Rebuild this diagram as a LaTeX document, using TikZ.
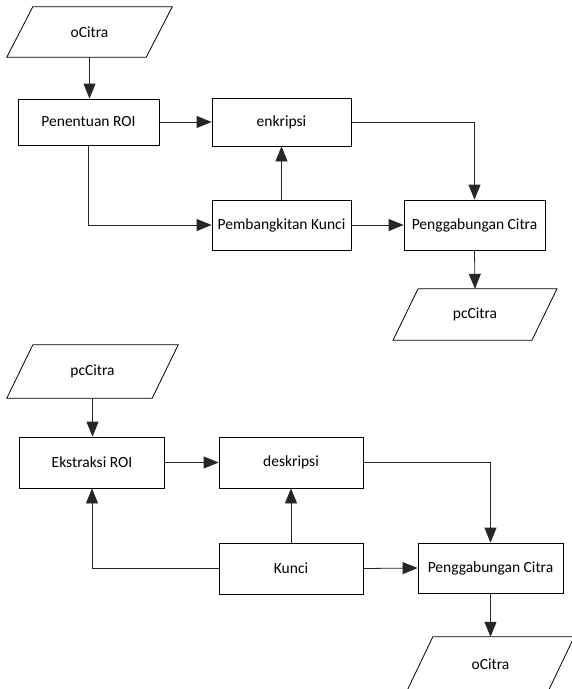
\documentclass[tikz,border=0pt]{standalone}
\usepackage{fontspec}
\setmainfont{Carlito}
\usetikzlibrary{arrows.meta,calc}
\tikzset{
  box/.style={draw=black, line width=0.8pt, rectangle, inner sep=0pt, font=\fontsize{15.5}{18}\selectfont},
  iotext/.style={rectangle, inner sep=0pt, font=\fontsize{15.5}{18}\selectfont},
  paraline/.style={draw=black, line width=0.8pt},
  conn/.style={draw=black!85, line width=0.8pt, -{Triangle[length=15pt,width=12pt]}}
}
\newcommand{\drawpara}[2]{\draw[paraline] ([xshift=#2]#1.north west) -- ([xshift=#2]#1.north east) -- ([xshift=-#2]#1.south east) -- ([xshift=-#2]#1.south west) -- cycle;}
\begin{document}
\begin{tikzpicture}[x=1pt,y=-1pt]
\useasboundingbox (0,0) rectangle (572,689);
\clip (0,0) rectangle (572,689);
\fill[white] (0,0) rectangle (572,689);
% ---------- top diagram ----------
\node[iotext, minimum width=139pt, minimum height=50pt] (in1) at (89.5,32) {oCitra};
\drawpara{in1}{13pt}
\node[box, minimum width=141pt, minimum height=46pt] (roi1) at (88.5,122) {Penentuan ROI};
\node[box, minimum width=139pt, minimum height=48pt] (enk) at (281.5,122) {enkripsi};
\node[box, minimum width=139pt, minimum height=50pt] (pk) at (281.5,225) {Pembangkitan Kunci};
\node[box, minimum width=141pt, minimum height=50pt] (gab1) at (474.5,225) {Penggabungan Citra};
\node[iotext, minimum width=138.5pt, minimum height=51pt] (out1) at (475,314.5) {pcCitra};
\drawpara{out1}{12.5pt}
\draw[conn] (in1.south) -- (in1.south |- roi1.north);
\draw[conn] (roi1.east) -- (enk.west);
\draw[conn] (roi1.south) |- (pk.west);
\draw[conn] (pk.north) -- (enk.south);
\draw[conn] (enk.east) -| (gab1.north);
\draw[conn] (pk.east) -- (gab1.west);
\draw[conn] (gab1.south) -- (out1.north);
% ---------- bottom diagram ----------
\node[iotext, minimum width=145pt, minimum height=53pt] (in2) at (92.5,371.5) {pcCitra};
\drawpara{in2}{13pt}
\node[box, minimum width=145pt, minimum height=51pt] (roi2) at (92,462.5) {Ekstraksi ROI};
\node[box, minimum width=144pt, minimum height=51pt] (dek) at (291,462.5) {deskripsi};
\node[box, minimum width=144pt, minimum height=51pt] (kunci) at (291,568.5) {Kunci};
\node[box, minimum width=145pt, minimum height=50pt] (gab2) at (490.5,568) {Penggabungan Citra};
\node[iotext, minimum width=141pt, minimum height=54pt] (out2) at (490.5,664) {oCitra};
\drawpara{out2}{13pt}
\draw[conn] (in2.south) -- (in2.south |- roi2.north);
\draw[conn] (roi2.east) -- (dek.west);
\draw[conn] (kunci.north) -- (dek.south);
\draw[conn] (kunci.west) -| (roi2.south);
\draw[conn] (kunci.east) -- (gab2.west);
\draw[conn] (dek.east) -| (gab2.north);
\draw[conn] (gab2.south) -- (out2.north);
\end{tikzpicture}
\end{document}
